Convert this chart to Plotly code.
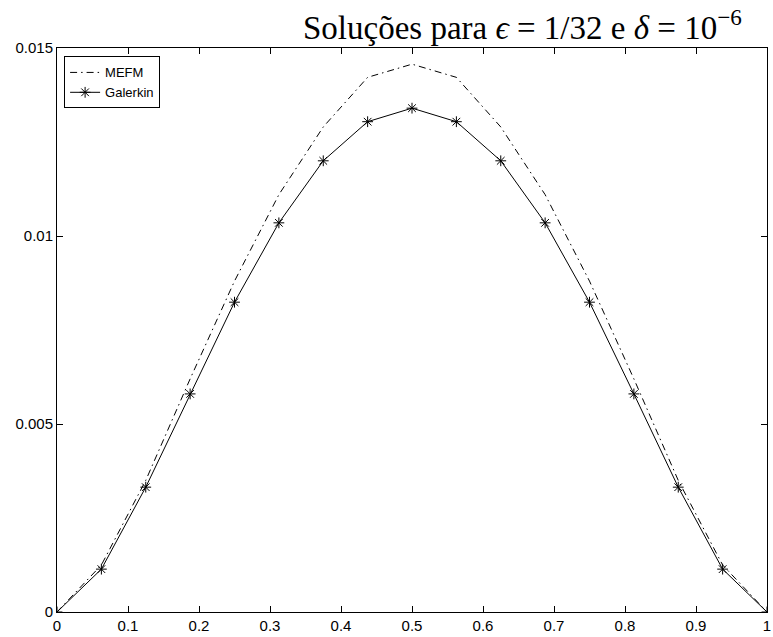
import plotly.graph_objects as go

# Mesh nodes x = k/16 on [0, 1]
x_nodes = [k / 16 for k in range(17)]

# Multiscale finite element solution (dash-dot curve)
mefm = [0.0, 0.00125, 0.0035, 0.0062, 0.0088, 0.0111, 0.0129, 0.01422, 0.01457,
        0.01422, 0.0129, 0.0111, 0.0088, 0.0062, 0.0035, 0.00125, 0.0]

# Standard Galerkin solution (solid line with asterisks)
galerkin = [0.0, 0.00114, 0.00332, 0.0058, 0.00824, 0.01035, 0.0120, 0.01304, 0.0134,
            0.01304, 0.0120, 0.01035, 0.00824, 0.0058, 0.00332, 0.00114, 0.0]

x_ticks = [0, 0.1, 0.2, 0.3, 0.4, 0.5, 0.6, 0.7, 0.8, 0.9, 1]
x_tick_text = ["0", "0.1", "0.2", "0.3", "0.4", "0.5", "0.6", "0.7", "0.8", "0.9", "1"]
y_ticks = [0, 0.005, 0.01, 0.015]
y_tick_text = ["0", "0.005", "0.01", "0.015"]

fig = go.Figure()

fig.add_trace(go.Scatter(
    x=x_nodes, y=mefm, mode="lines", name="MEFM",
    line=dict(color="black", width=1, dash="7px,4px,1.5px,4px"),
))

fig.add_trace(go.Scatter(
    x=x_nodes, y=galerkin, mode="lines+markers", name="Galerkin",
    line=dict(color="black", width=1),
    marker=dict(symbol="asterisk-open", size=9, color="black",
                line=dict(color="black", width=1)),
))

axis_common = dict(
    showgrid=False, zeroline=False,
    showline=True, linecolor="black", linewidth=1, mirror="ticks",
    ticks="inside", ticklen=6, tickcolor="black", tickwidth=1,
    ticklabeloverflow="allow",
    tickfont=dict(family="Liberation Sans, Arial, sans-serif", size=15, color="black"),
)

fig.update_xaxes(range=[0, 1], tickmode="array", tickvals=x_ticks,
                 ticktext=x_tick_text, **axis_common)
fig.update_yaxes(range=[0, 0.015], tickmode="array", tickvals=y_ticks,
                 ticktext=y_tick_text, **axis_common)

fig.update_layout(
    width=773, height=637,
    margin=dict(l=57, r=2, t=48, b=25),
    paper_bgcolor="white", plot_bgcolor="white",
    showlegend=True,
    legend=dict(
        x=0.01, y=0.985, xanchor="left", yanchor="top",
        bgcolor="white", bordercolor="black", borderwidth=1,
        font=dict(family="Liberation Sans, Arial, sans-serif", size=13, color="black"),
        tracegroupgap=0, itemwidth=30,
    ),
    annotations=[dict(
        text="Soluções para <i>ϵ</i> = 1/32 e <i>δ</i> = 10<sup>−6</sup>",
        xref="paper", yref="paper", x=0.968, y=1.0,
        xanchor="right", yanchor="bottom", showarrow=False,
        font=dict(family="Liberation Serif, DejaVu Serif, serif", size=33, color="black"),
    )],
)

fig.write_html("out.html")
